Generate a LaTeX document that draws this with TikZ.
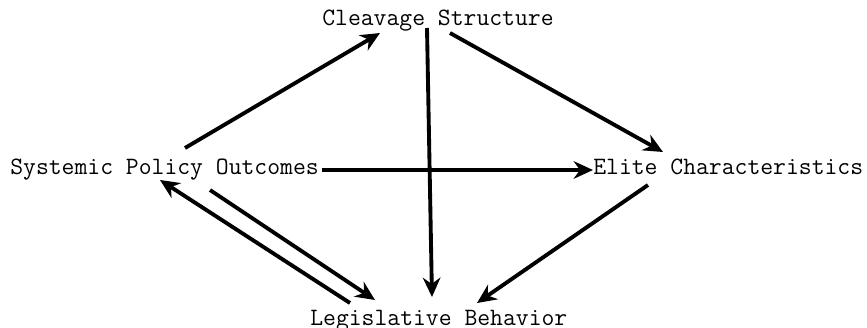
\documentclass[tikz,border=0pt]{standalone}
\usepackage{tikz}
\usetikzlibrary{arrows.meta, positioning}

\begin{document}
\begin{tikzpicture}[
  x=0.02cm, y=-0.02cm,
  term/.style={inner sep=0pt, anchor=base west,
               font=\ttfamily\fontsize{14.2}{16}\selectfont},
  arrow/.style={-{Stealth[length=11pt, width=10pt]}, line width=2.2pt}
]
\useasboundingbox (0,0) rectangle (867,328);
\node[term] (cleavage) at (322,26)  {Cleavage Structure};
\node[term] (policy)   at (10,174)  {Systemic Policy Outcomes};
\node[term] (elite)    at (593,174) {Elite Characteristics};
\node[term] (legis)    at (310,325) {Legislative Behavior};
\draw[arrow] ([shift={(175,-26)}]policy.base west) -- ([shift={(58,7)}]cleavage.base west);
\draw[arrow] ([shift={(105,2)}]cleavage.base west) -- ([shift={(122,-28)}]legis.base west);
\draw[arrow] ([shift={(128,7)}]cleavage.base west) -- ([shift={(70,-22)}]elite.base west);
\draw[arrow] ([shift={(312,-4)}]policy.base west)  -- ([shift={(0,-4)}]elite.base west);
\draw[arrow] ([shift={(55,11)}]elite.base west)    -- ([shift={(167,-22)}]legis.base west);
\draw[arrow] ([shift={(200,16)}]policy.base west)  -- ([shift={(65,-25)}]legis.base west);
\draw[arrow] ([shift={(40,-22)}]legis.base west)   -- ([shift={(150,6)}]policy.base west);
\end{tikzpicture}
\end{document}
